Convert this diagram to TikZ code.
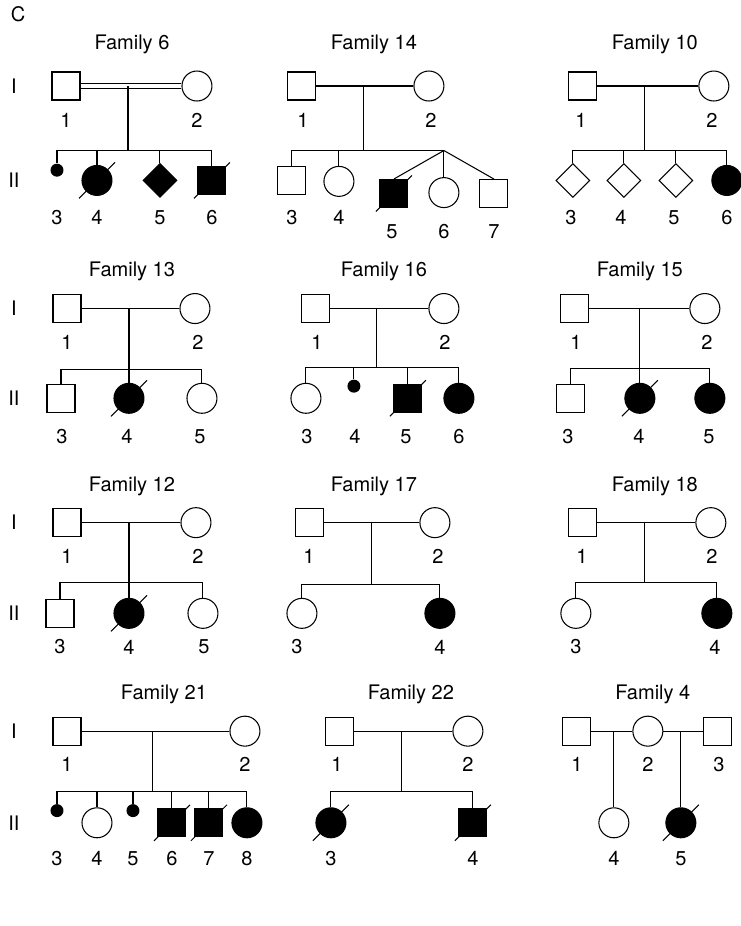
\documentclass[tikz,border=0pt]{standalone}
\usepackage{fontspec}
\setmainfont{TeX Gyre Heros}
\usetikzlibrary{shapes.geometric}

\newcommand{\deceased}[1]{\draw ([shift={(-0.36cm,-0.36cm)}]#1.center) -- ([shift={(0.36cm,0.36cm)}]#1.center);}

\begin{document}
\begin{tikzpicture}[x=0.02cm, y=-0.0187cm, line width=0.6pt,
	every node/.style={font=\fontsize{11.4}{13}\selectfont},
	male/.style={draw, rectangle, minimum size=0.56cm, inner sep=0pt},
	female/.style={draw, circle, minimum size=0.6cm, inner sep=0pt},
	sexunk/.style={draw, diamond, minimum width=0.68cm, minimum height=0.68cm, inner sep=0pt},
	miscarr/.style={circle, fill, minimum size=0.26cm, inner sep=0pt},
	aff/.style={fill=black}]
		\useasboundingbox (0,0) rectangle (741,990.4);
		\node (panel) at (18,15) {C};
		
		% Generation labels
		\foreach \r/\yi/\yii in {1/92/193, 2/330/426, 3/559/656, 4/782/880} {
			\node (genI\r) at (14,\yi) {I};
			\node (genII\r) at (14,\yii) {II};
		}
		
		% Family 6
		\node (f6t) at (132,47) {Family 6};
		\node[male] (f6p1) at (66,92) {};
		\node[female] (f6p2) at (197,92) {};
		\draw[double, double distance=2.6pt] (f6p1) -- (f6p2);
		\coordinate (f6m) at (128,92);
		\coordinate (f6s) at (128,161);
		\draw (f6m) -- (f6s);
		\node[miscarr] (f6c3) at (57,182) {};
		\node[female, aff] (f6c4) at (97,193) {};
		\node[sexunk, aff] (f6c5) at (160,193) {};
		\node[male, aff] (f6c6) at (212,193) {};
		\foreach \c in {3,4,5,6} \draw (f6c\c.north) |- (f6s);
		\deceased{f6c4} \deceased{f6c6}
		\node (f6n1) at (66,129) {1};
		\node (f6n2) at (197,129) {2};
		\foreach \n/\x in {3/57, 4/97, 5/160, 6/212} \node (f6n\n) at (\x,233) {\n};
		
		% Family 14
		\node (f14t) at (374,47) {Family 14};
		\node[male] (f14p1) at (302,92) {};
		\node[female] (f14p2) at (429,92) {};
		\draw (f14p1) -- (f14p2);
		\coordinate (f14m) at (364,92);
		\coordinate (f14s) at (364,161);
		\coordinate (f14tw) at (444,161);
		\draw (f14m) -- (f14s) -- (f14tw);
		\node[male] (f14c3) at (292,193) {};
		\node[female] (f14c4) at (339,194) {};
		\node[male, aff] (f14c5) at (394,207) {};
		\node[female] (f14c6) at (444,206) {};
		\node[male] (f14c7) at (494,207) {};
		\draw (f14c3.north) |- (f14s);
		\draw (f14c4.north) |- (f14s);
		\foreach \c in {5,6,7} \draw (f14tw) -- (f14c\c.north);
		\deceased{f14c5}
		\node (f14n1) at (303,129) {1};
		\node (f14n2) at (431,129) {2};
		\node (f14n3) at (292,233) {3};
		\node (f14n4) at (339,233) {4};
		\foreach \n/\x in {5/392, 6/444, 7/494} \node (f14n\n) at (\x,248) {\n};
		
		% Family 10
		\node (f10t) at (655,47) {Family 10};
		\node[male] (f10p1) at (583,92) {};
		\node[female] (f10p2) at (714,92) {};
		\draw (f10p1) -- (f10p2);
		\coordinate (f10m) at (645,92);
		\coordinate (f10s) at (645,161);
		\draw (f10m) -- (f10s);
		\node[sexunk] (f10c3) at (573,193) {};
		\node[sexunk] (f10c4) at (624,193) {};
		\node[sexunk] (f10c5) at (676,193) {};
		\node[female, aff] (f10c6) at (727,193) {};
		\foreach \c in {3,4,5,6} \draw (f10c\c.north) |- (f10s);
		\node (f10n1) at (581,129) {1};
		\node (f10n2) at (712,129) {2};
		\foreach \n/\x in {3/571, 4/621, 5/674, 6/727} \node (f10n\n) at (\x,233) {\n};
		
		% Family 13
		\node (f13t) at (132,290) {Family 13};
		\node[male] (f13p1) at (67,330) {};
		\node[female] (f13p2) at (195,330) {};
		\draw (f13p1) -- (f13p2);
		\coordinate (f13m) at (129,330);
		\coordinate (f13s) at (129,395);
		\draw (f13m) -- (f13s);
		\node[male] (f13c3) at (61,426) {};
		\node[female, aff] (f13c4) at (129,426) {};
		\node[female] (f13c5) at (202,426) {};
		\foreach \c in {3,4,5} \draw (f13c\c.north) |- (f13s);
		\deceased{f13c4}
		\node (f13n1) at (67,366) {1};
		\node (f13n2) at (198,366) {2};
		\foreach \n/\x in {3/62, 4/127, 5/200} \node (f13n\n) at (\x,467) {\n};
		
		% Family 16
		\node (f16t) at (384,290) {Family 16};
		\node[male] (f16p1) at (316,330) {};
		\node[female] (f16p2) at (444,330) {};
		\draw (f16p1) -- (f16p2);
		\coordinate (f16m) at (377,330);
		\coordinate (f16s) at (377,393);
		\draw (f16m) -- (f16s);
		\node[female] (f16c3) at (306,426) {};
		\node[miscarr] (f16c4) at (354,413) {};
		\node[male, aff] (f16c5) at (408,426) {};
		\node[female, aff] (f16c6) at (459,426) {};
		\foreach \c in {3,4,5,6} \draw (f16c\c.north) |- (f16s);
		\deceased{f16c5}
		\node (f16n1) at (317,366) {1};
		\node (f16n2) at (445,366) {2};
		\foreach \n/\x in {3/307, 4/355, 5/406, 6/459} \node (f16n\n) at (\x,467) {\n};
		
		% Family 15
		\node (f15t) at (640,290) {Family 15};
		\node[male] (f15p1) at (575,330) {};
		\node[female] (f15p2) at (705,330) {};
		\draw (f15p1) -- (f15p2);
		\coordinate (f15m) at (640,330);
		\coordinate (f15s) at (640,394);
		\draw (f15m) -- (f15s);
		\node[male] (f15c3) at (571,426) {};
		\node[female, aff] (f15c4) at (640,426) {};
		\node[female, aff] (f15c5) at (710,426) {};
		\foreach \c in {3,4,5} \draw (f15c\c.north) |- (f15s);
		\deceased{f15c4}
		\node (f15n1) at (576,366) {1};
		\node (f15n2) at (707,366) {2};
		\foreach \n/\x in {3/568, 4/639, 5/709} \node (f15n\n) at (\x,467) {\n};
		
		% Family 12
		\node (f12t) at (132,520) {Family 12};
		\node[male] (f12p1) at (67,559) {};
		\node[female] (f12p2) at (196,559) {};
		\draw (f12p1) -- (f12p2);
		\coordinate (f12m) at (129,559);
		\coordinate (f12s) at (129,623);
		\draw (f12m) -- (f12s);
		\node[male] (f12c3) at (60,656) {};
		\node[female, aff] (f12c4) at (129,656) {};
		\node[female] (f12c5) at (203,656) {};
		\foreach \c in {3,4,5} \draw (f12c\c.north) |- (f12s);
		\deceased{f12c4}
		\node (f12n1) at (67,595) {1};
		\node (f12n2) at (198,595) {2};
		\foreach \n/\x in {3/60, 4/129, 5/204} \node (f12n\n) at (\x,692) {\n};
		
		% Family 17
		\node (f17t) at (374,520) {Family 17};
		\node[male] (f17p1) at (310,559) {};
		\node[female] (f17p2) at (435,559) {};
		\draw (f17p1) -- (f17p2);
		\coordinate (f17m) at (372,559);
		\coordinate (f17s) at (372,625);
		\draw (f17m) -- (f17s);
		\node[female] (f17c3) at (302,656) {};
		\node[female, aff] (f17c4) at (440,656) {};
		\foreach \c in {3,4} \draw (f17c\c.north) |- (f17s);
		\node (f17n1) at (309,595) {1};
		\node (f17n2) at (438,595) {2};
		\foreach \n/\x in {3/297, 4/440} \node (f17n\n) at (\x,692) {\n};
		
		% Family 18
		\node (f18t) at (655,520) {Family 18};
		\node[male] (f18p1) at (583,559) {};
		\node[female] (f18p2) at (711,559) {};
		\draw (f18p1) -- (f18p2);
		\coordinate (f18m) at (645,559);
		\coordinate (f18s) at (645,623);
		\draw (f18m) -- (f18s);
		\node[female] (f18c3) at (576,656) {};
		\node[female, aff] (f18c4) at (717,656) {};
		\foreach \c in {3,4} \draw (f18c\c.north) |- (f18s);
		\node (f18n1) at (582,595) {1};
		\node (f18n2) at (712,595) {2};
		\foreach \n/\x in {3/576, 4/715} \node (f18n\n) at (\x,692) {\n};
		
		% Family 21
		\node (f21t) at (164,743) {Family 21};
		\node[male] (f21p1) at (67,782) {};
		\node[female] (f21p2) at (245,782) {};
		\draw (f21p1) -- (f21p2);
		\coordinate (f21m) at (153,782);
		\coordinate (f21s) at (153,847);
		\draw (f21m) -- (f21s);
		\node[miscarr] (f21c3) at (57,867) {};
		\node[female] (f21c4) at (97,880) {};
		\node[miscarr] (f21c5) at (133,867) {};
		\node[male, aff] (f21c6) at (172,880) {};
		\node[male, aff] (f21c7) at (209,880) {};
		\node[female, aff] (f21c8) at (247,880) {};
		\foreach \c in {3,...,8} \draw (f21c\c.north) |- (f21s);
		\deceased{f21c6} \deceased{f21c7}
		\node (f21n1) at (67,818) {1};
		\node (f21n2) at (245,818) {2};
		\foreach \n/\x in {3/57, 4/97, 5/133, 6/172, 7/209, 8/247} \node (f21n\n) at (\x,918) {\n};
		
		% Family 22
		\node (f22t) at (411,743) {Family 22};
		\node[male] (f22p1) at (340,782) {};
		\node[female] (f22p2) at (468,782) {};
		\draw (f22p1) -- (f22p2);
		\coordinate (f22m) at (402,782);
		\coordinate (f22s) at (402,847);
		\draw (f22m) -- (f22s);
		\node[female, aff] (f22c3) at (331,880) {};
		\node[male, aff] (f22c4) at (473,880) {};
		\foreach \c in {3,4} \draw (f22c\c.north) |- (f22s);
		\deceased{f22c3} \deceased{f22c4}
		\node (f22n1) at (337,818) {1};
		\node (f22n2) at (468,818) {2};
		\foreach \n/\x in {3/331, 4/473} \node (f22n\n) at (\x,918) {\n};
		
		% Family 4
		\node (f4t) at (653,743) {Family 4};
		\node[male] (f4p1) at (577,782) {};
		\node[female] (f4p2) at (648,782) {};
		\node[male] (f4p3) at (718,782) {};
		\draw (f4p1) -- (f4p2);
		\draw (f4p2) -- (f4p3);
		\coordinate (f4m1) at (614,782);
		\coordinate (f4m2) at (681,782);
		\node[female] (f4c4) at (614,880) {};
		\node[female, aff] (f4c5) at (681,880) {};
		\draw (f4m1) -- (f4c4);
		\draw (f4m2) -- (f4c5);
		\deceased{f4c5}
		\node (f4n1) at (577,818) {1};
		\node (f4n2) at (648,818) {2};
		\node (f4n3) at (719,818) {3};
		\foreach \n/\x in {4/614, 5/681} \node (f4n\n) at (\x,918) {\n};
	\end{tikzpicture}
\end{document}
